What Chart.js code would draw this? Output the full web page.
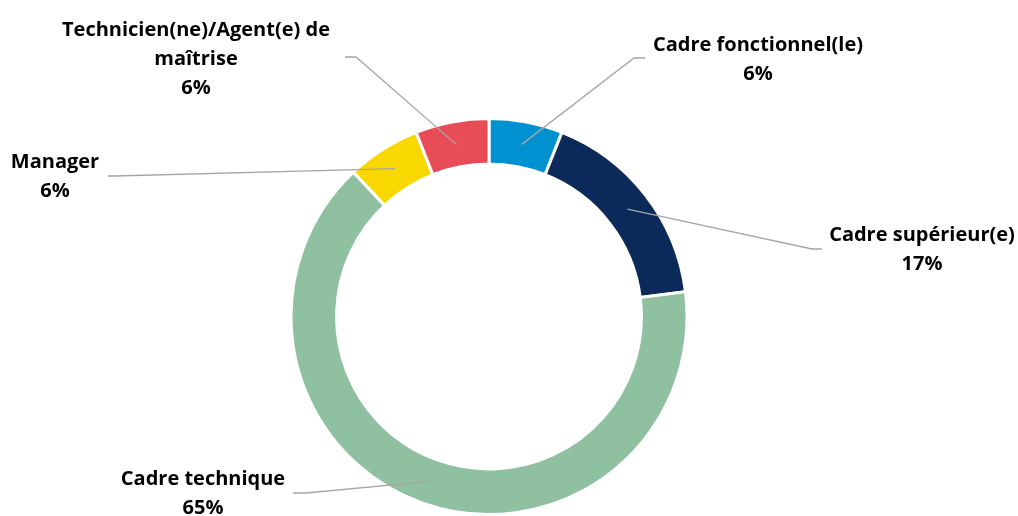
<!DOCTYPE html>
<html>
<head>
<meta charset="utf-8">
<script src="https://cdn.jsdelivr.net/npm/chart.js@4/dist/chart.umd.min.js"></script>
<style>
  html, body { margin: 0; padding: 0; background: #fff; }
  #wrap { width: 1018px; height: 516px; }
</style>
</head>
<body>
<div id="wrap"><canvas id="chartDonut"></canvas></div>
<script>
const categories = ["Cadre fonctionnel(le)", "Cadre supérieur(e)", "Cadre technique", "Manager", "Technicien(ne)/Agent(e) de maîtrise"];
const values = [6, 17, 65, 6, 6];
const colors = ["#0091D1", "#0B2A59", "#8FC1A1", "#F9D700", "#E84C56"];

// label lines (text wrapped like the original) and where each label sits
const labelLines = [
    ["Cadre fonctionnel(le)"],
    ["Cadre supérieur(e)"],
    ["Cadre technique"],
    ["Manager"],
    ["Technicien(ne)/Agent(e) de", "maîtrise"]
];
const labelPos = [
    { x: 758, y: 45, elbow: [634, 58], end: [645, 58] },
    { x: 922, y: 235, elbow: [812, 249], end: [822, 249] },
    { x: 203, y: 479, elbow: [306, 493], end: [293, 493] },
    { x: 55, y: 162, elbow: [115, 176], end: [108, 176] },
    { x: 196, y: 30, elbow: [356, 57], end: [345, 57] }
];

const leaderLabels = {
    id: 'leaderLabels',
    afterDatasetsDraw(chart) {
        const ctx = chart.ctx;
        const meta = chart.getDatasetMeta(0);
        ctx.save();
        meta.data.forEach((arc, i) => {
            const p = arc.getProps(['x', 'y', 'startAngle', 'endAngle', 'innerRadius', 'outerRadius'], true);
            const mid = (p.startAngle + p.endAngle) / 2;
            const r = (p.innerRadius + p.outerRadius) / 2;
            const sx = p.x + Math.cos(mid) * r;
            const sy = p.y + Math.sin(mid) * r;
            const lp = labelPos[i];
            ctx.strokeStyle = '#A6A6A6';
            ctx.lineWidth = 1.3;
            ctx.beginPath();
            ctx.moveTo(sx, sy);
            ctx.lineTo(lp.elbow[0], lp.elbow[1]);
            ctx.lineTo(lp.end[0], lp.end[1]);
            ctx.stroke();

            ctx.fillStyle = '#000';
            ctx.font = 'bold 20px "Open Sans", Lato, sans-serif';
            ctx.textAlign = 'center';
            ctx.textBaseline = 'middle';
            const lines = labelLines[i].concat([values[i] + '%']);
            lines.forEach((t, k) => ctx.fillText(t, lp.x, lp.y + k * 29));
        });
        ctx.restore();
    }
};

new Chart(document.getElementById('chartDonut').getContext('2d'), {
    type: 'doughnut',
    data: {
        labels: categories,
        datasets: [{
            data: values,
            backgroundColor: colors,
            borderColor: '#FFFFFF',
            borderWidth: 3
        }]
    },
    options: {
        responsive: true,
        maintainAspectRatio: false,
        animation: false,
        cutout: '77%',
        layout: { padding: { top: 117, bottom: 0, left: 0, right: 40 } },
        plugins: {
            legend: { display: false },
            tooltip: { enabled: false }
        }
    },
    plugins: [leaderLabels]
});
</script>
</body>
</html>
